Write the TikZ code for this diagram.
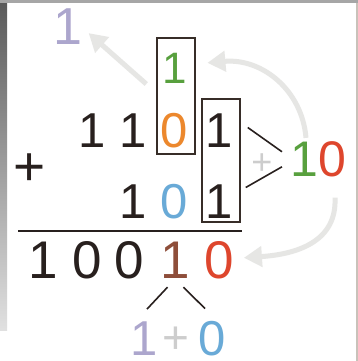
\documentclass[tikz,border=0pt]{standalone}
\usepackage{fontspec}
\setmainfont{Liberation Sans}
\usetikzlibrary{arrows.meta,calc}
\definecolor{ink}{RGB}{40,32,30}
\definecolor{edge}{RGB}{55,45,40}
\definecolor{lav}{RGB}{172,166,205}
\definecolor{grn}{RGB}{88,160,62}
\definecolor{org}{RGB}{236,136,45}
\definecolor{blu}{RGB}{105,170,215}
\definecolor{rd}{RGB}{222,70,45}
\definecolor{brn}{RGB}{142,78,58}
\definecolor{faint}{RGB}{205,205,205}
\definecolor{fade}{RGB}{230,230,228}

\begin{document}
\begin{tikzpicture}[
    x=1pt, y=-1pt,
    digit/.style={inner sep=0pt, anchor=base, text=#1,
      font=\fontsize{49}{49}\selectfont},
    digit/.default=ink,
    bigdigit/.style={digit=#1, font=\fontsize{53}{53}\selectfont},
    bigdigit/.default=ink,
    colbox/.style={draw=edge, line width=1.5pt, minimum width=38pt, inner sep=0pt},
    arrow/.style={-{Triangle[length=18pt,width=20pt]}, line width=5pt, color=fade},
    link/.style={line width=1.6pt, color=ink}
  ]
    % Frame
    \useasboundingbox (0,0) rectangle (358,361);
    \fill[white] (0,0) rectangle (358,361);
    \shade[top color=black!65, bottom color=black!12] (0,0) rectangle (7,330);
    \fill[black!35] (0,0) rectangle (358,3);
    \fill[brown!40!black!30] (356,3) rectangle (358,361);

    % Carries
    \node[digit=lav, font=\fontsize{52}{52}\selectfont] (carryout) at (68,45) {1};
    \node[digit=grn, font=\fontsize{44}{44}\selectfont] (carry) at (175,83) {1};

    % Row 1: 1101
    \node[digit] (a1) at (92,147) {1};
    \node[digit] (a2) at (133,147) {1};
    \node[digit=org] (a3) at (174,147) {0};
    \node[digit] (a4) at (219,147) {1};

    % Row 2: + 101
    \node[digit, font=\fontsize{55}{55}\selectfont] (plus) at (30,185) {+};
    \node[digit] (b2) at (133,218) {1};
    \node[digit=blu] (b3) at (174,218) {0};
    \node[digit] (b4) at (219,218) {1};

    % Column boxes
    \node[colbox, minimum height=116pt] (box1) at (176,96) {};
    \node[colbox, minimum height=123pt] (box2) at (221,160.5) {};

    % Side sum
    \node[digit, font=\fontsize{50}{50}\selectfont] (pair) at (318,176)
      {\textcolor{grn}{1}\textcolor{rd}{0}};
    \node[digit=faint, font=\fontsize{36}{36}\selectfont] (pairplus) at (262,174) {+};
    \draw[link] ($(box2.east)+(7,-33)$) -- ($(pair.west)+(-8,-7)$);
    \draw[link] ($(pair.west)+(-8,8)$) -- ($(box2.east)+(5,27)$);

    % Result: 10010
    \draw[link] (18,231) -- (242,231);
    \node[bigdigit] (r1) at (43.5,278) {1};
    \node[bigdigit] (r2) at (87.5,278) {0};
    \node[bigdigit] (r3) at (129.5,278) {0};
    \node[bigdigit=brn] (r4) at (175.5,278) {1};
    \node[bigdigit=rd] (r5) at (219,278) {0};

    % Split of the fourth digit
    \node[digit=lav] (low1) at (144,355) {1};
    \node[digit=faint, font=\fontsize{46}{46}\selectfont] (lowplus) at (176,353) {+};
    \node[digit=blu] (low0) at (212,355) {0};
    \draw[link] ($(r4.south)+(-8,9)$) -- ($(low1.north)+(3,-12)$);
    \draw[link] ($(r4.south)+(8,9)$) -- ($(low0.north)+(-7,-12)$);

    % Carry arrows
    \draw[arrow] ($(box1.west)+(-10,-12)$) -- ($(carryout.east)+(6,6)$);
    \draw[arrow] ($(pair.north)+(-12,-3)$) .. controls (302,90) and (262,58)
      .. ($(carry.east)+(20,-5)$);
    \draw[arrow] ($(pair.south)+(17,21)$) .. controls (337,240) and (300,254)
      .. ($(r5.east)+(10,-2)$);
  \end{tikzpicture}
\end{document}
